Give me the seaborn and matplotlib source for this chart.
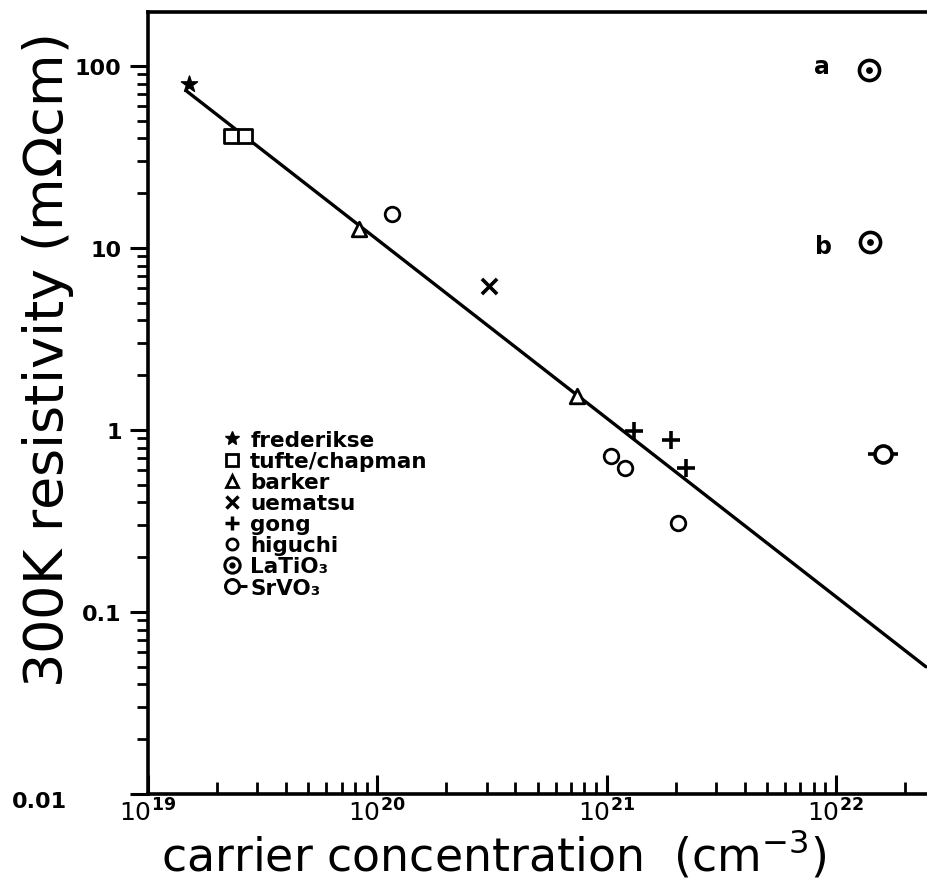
import numpy as np
import pandas as pd
import matplotlib
matplotlib.use('Agg')
import matplotlib.pyplot as plt
import matplotlib.transforms as mtrans
import seaborn as sns
from matplotlib.lines import Line2D
from matplotlib.legend_handler import HandlerTuple
from matplotlib.ticker import LogLocator, NullFormatter, FixedLocator, FixedFormatter

sns.set_theme(style='white')
plt.rcParams['font.family'] = ['DejaVu Sans']
plt.rcParams['mathtext.fontset'] = 'dejavusans'
for key in ['text.color', 'axes.labelcolor', 'xtick.color', 'ytick.color', 'axes.edgecolor']:
    plt.rcParams[key] = 'black'

# ---- data (carrier concentration in cm^-3, resistivity in mOhm cm) ----
frederikse_n = [1.51e19]
frederikse_rho = [80]
tufte_n = [2.30e19, 2.65e19]
tufte_rho = [41, 41]
barker_n = [8.3e19, 7.4e20]
barker_rho = [12.7, 1.54]
uematsu_n = [3.07e20]
uematsu_rho = [6.2]
gong_n = [1.32e21, 1.91e21, 2.22e21]
gong_rho = [0.99, 0.88, 0.62]
higuchi_n = [1.16e20, 1.05e21, 1.20e21, 2.05e21]
higuchi_rho = [15.4, 0.72, 0.62, 0.31]
latio3_n = [1.39e22, 1.41e22]
latio3_rho = [95, 10.8]
srvo3_n = [1.60e22]
srvo3_rho = [0.74]
fit_n = [1.47e19, 2.47e22]
fit_rho = [73, 0.05]
note_labels = ['a', 'b']
note_n = [8.7e21, 8.8e21]
note_rho = [100, 10.3]

x_ticks = [1e19, 1e20, 1e21, 1e22]
x_tick_labels = [r'$10^{\mathbf{19}}$', r'$10^{\mathbf{20}}$', r'$10^{\mathbf{21}}$', r'$10^{\mathbf{22}}$']
y_ticks = [0.01, 0.1, 1, 10, 100]
y_tick_labels = ['0.01', '0.1', '1', '10', '100']
legend_labels = ['frederikse', 'tufte/chapman', 'barker', 'uematsu', 'gong',
                 'higuchi', 'LaTiO₃', 'SrVO₃']

W, H = 927, 895
fig = plt.figure(figsize=(W / 100, H / 100), dpi=100)
ax = fig.add_axes([148 / W, 1 - 795 / H, 1 - 148 / W, 782 / H])
ax.set_xscale('log')
ax.set_yscale('log')

K = 'black'
lw = 2.0

sns.lineplot(x=fit_n, y=fit_rho, ax=ax, color=K, linewidth=2.4, zorder=2)

sns.scatterplot(x=frederikse_n, y=frederikse_rho, ax=ax, marker='*', s=150,
                color=K, edgecolor=K, linewidth=1, zorder=4)
sns.scatterplot(x=tufte_n, y=tufte_rho, ax=ax, marker='s', s=110,
                facecolor='white', edgecolor=K, linewidth=lw, zorder=4)
sns.scatterplot(x=barker_n, y=barker_rho, ax=ax, marker='^', s=110,
                facecolor='white', edgecolor=K, linewidth=lw, zorder=4)
sns.scatterplot(x=uematsu_n, y=uematsu_rho, ax=ax, marker='x', s=120,
                color=K, linewidth=2.6, zorder=4)
sns.scatterplot(x=gong_n, y=gong_rho, ax=ax, marker='+', s=160,
                color=K, linewidth=2.6, zorder=4)
sns.scatterplot(x=higuchi_n, y=higuchi_rho, ax=ax, marker='o', s=110,
                facecolor='white', edgecolor=K, linewidth=lw, zorder=4)
sns.scatterplot(x=latio3_n, y=latio3_rho, ax=ax, marker='o', s=210,
                facecolor='white', edgecolor=K, linewidth=2.6, zorder=4)
sns.scatterplot(x=latio3_n, y=latio3_rho, ax=ax, marker='o', s=24,
                color=K, edgecolor=K, linewidth=0, zorder=5)
sns.scatterplot(x=srvo3_n, y=srvo3_rho, ax=ax, marker='_', s=480,
                color=K, linewidth=2.6, zorder=3)
sns.scatterplot(x=srvo3_n, y=srvo3_rho, ax=ax, marker='o', s=150,
                facecolor='white', edgecolor=K, linewidth=2.6, zorder=4)

for lab, xn, yr in zip(note_labels, note_n, note_rho):
    ax.text(xn, yr, lab, ha='center', va='center', fontsize=17,
            fontweight='bold', color=K)

ax.set_xlim(1e19, 10 ** (19 + (927 - 148) / 229.3))
ax.set_ylim(0.01, 10 ** (-2 + 782 / 182))

for side in ['left', 'bottom', 'top']:
    ax.spines[side].set_visible(True)
    ax.spines[side].set_color(K)
    ax.spines[side].set_linewidth(2.6)
ax.spines['right'].set_visible(False)

ax.xaxis.set_major_locator(FixedLocator(x_ticks))
ax.xaxis.set_major_formatter(FixedFormatter(x_tick_labels))
ax.xaxis.set_minor_locator(LogLocator(base=10, subs=np.arange(2, 10), numticks=20))
ax.xaxis.set_minor_formatter(NullFormatter())
ax.yaxis.set_major_locator(FixedLocator(y_ticks))
ax.yaxis.set_major_formatter(FixedFormatter(y_tick_labels))
ax.yaxis.set_minor_locator(LogLocator(base=10, subs=np.arange(2, 10), numticks=20))
ax.yaxis.set_minor_formatter(NullFormatter())

ax.tick_params(axis='x', which='major', direction='in', length=14, width=2.2,
               labelsize=18, pad=3, colors=K, bottom=True, top=False)
ax.tick_params(axis='x', which='minor', direction='in', length=9, width=2,
               bottom=True, top=False)
ax.tick_params(axis='y', which='major', direction='out', length=13, width=2.2,
               labelsize=16, pad=6, colors=K, left=True, right=False)
ax.tick_params(axis='y', which='minor', direction='out', length=8, width=2,
               left=True, right=False)
for t in ax.get_yticklabels():
    t.set_fontweight('bold')
# the 0.01 label sits further left and slightly lower, clear of the 10^19 label
ylabs = ax.get_yticklabels()
ylabs[0].set_transform(ylabs[0].get_transform() +
                       mtrans.ScaledTranslation(-0.55, -0.05, fig.dpi_scale_trans))

ax.set_xlabel('carrier concentration  (cm$^{-3}$)', fontsize=33, color=K)
ax.xaxis.set_label_coords((494 - 148) / 779, (795 - 829) / 782)
ax.set_ylabel('300K resistivity (m$\\Omega$cm)', fontsize=39, color=K)
ax.yaxis.set_label_coords((76 - 148) / 779, (795 - 362) / 782)

# legend with composite markers
h_fred = Line2D([], [], marker='*', color=K, linestyle='none', markersize=10)
h_tuf = Line2D([], [], marker='s', color=K, mfc='white', mew=2, linestyle='none', markersize=8)
h_bar = Line2D([], [], marker='^', color=K, mfc='white', mew=2, linestyle='none', markersize=8)
h_uem = Line2D([], [], marker='x', color=K, mew=2.5, linestyle='none', markersize=8)
h_gong = Line2D([], [], marker='+', color=K, mew=2.5, linestyle='none', markersize=10)
h_hig = Line2D([], [], marker='o', color=K, mfc='white', mew=2, linestyle='none', markersize=8)
h_la1 = Line2D([], [], marker='o', color=K, mfc='white', mew=2.2, linestyle='none', markersize=11)
h_la2 = Line2D([], [], marker='o', color=K, linestyle='none', markersize=3.5)
h_sr1 = Line2D([], [], marker=1, color=K, mew=2.2, linestyle='none', markersize=11)
h_sr2 = Line2D([], [], marker='o', color=K, mfc='white', mew=2.2, linestyle='none', markersize=10)
handles = [h_fred, h_tuf, h_bar, h_uem, h_gong, h_hig, (h_la1, h_la2), (h_sr1, h_sr2)]
leg = ax.legend(handles, legend_labels, loc='upper left',
                bbox_to_anchor=(220 / W, 1 - 431 / H), bbox_transform=fig.transFigure,
                frameon=False, handlelength=1.1, handletextpad=0.3,
                labelspacing=0.05, borderpad=0, borderaxespad=0,
                prop={'weight': 'bold', 'size': 15.5},
                handler_map={tuple: HandlerTuple(ndivide=1, pad=0)})
for txt in leg.get_texts():
    txt.set_color(K)

fig.savefig('out.png', dpi=100, facecolor='white')
